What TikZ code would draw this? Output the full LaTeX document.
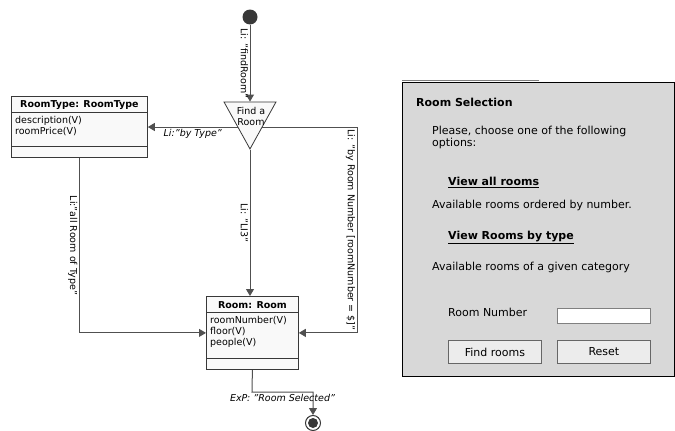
\documentclass[tikz,border=0pt]{standalone}
\usepackage{fontspec}
\setmainfont{DejaVu Sans}
\usepackage{tikz}
\usetikzlibrary{shapes.geometric, arrows.meta, positioning, calc, backgrounds}
\definecolor{FlowLine}{HTML}{505050}
\definecolor{BoxBorder}{HTML}{383838}
\definecolor{BoxFill}{HTML}{F9F9F9}
\definecolor{PanelGray}{HTML}{D8D8D8}
\definecolor{ButtonGray}{HTML}{ECECEC}
\tikzset{
    % UML class boxes
    class box/.style={
        rectangle,
        draw=BoxBorder,
        fill=BoxFill,
        line width=0.8pt,
        inner sep=0pt
    },
    class title/.style={
        font=\fontsize{9.5}{11}\selectfont\bfseries,
        inner sep=0pt,
        anchor=center
    },
    class attr/.style={
        font=\fontsize{9.5}{11}\selectfont,
        align=left,
        inner sep=0pt,
        anchor=north west
    },
    % navigation nodes
    start state/.style={
        circle,
        fill=BoxBorder,
        minimum size=15pt,
        inner sep=0pt
    },
    end state/.style={
        circle,
        draw=BoxBorder,
        line width=1pt,
        fill=white,
        minimum size=15pt,
        inner sep=0pt,
        path picture={\fill[BoxBorder] (path picture bounding box.center) circle (5pt);}
    },
    index node/.style={
        isosceles triangle,
        isosceles triangle stretches,
        shape border rotate=-90,
        draw=BoxBorder,
        fill=BoxFill,
        line width=0.8pt,
        minimum width=52pt,
        minimum height=47pt,
        inner sep=0pt
    },
    arrow style/.style={
        -{Triangle[length=7pt,width=8pt]},
        line width=1pt,
        FlowLine
    },
    link label/.style={
        font=\fontsize{9.5}{11}\selectfont,
        text=black,
        inner sep=1.5pt
    },
    % web page mock-up
    panel/.style={
        rectangle,
        draw=black,
        fill=PanelGray,
        line width=0.6pt,
        inner sep=0pt
    },
    panel text/.style={
        font=\fontsize{11}{12}\selectfont,
        align=left,
        inner sep=0pt,
        anchor=base west
    },
    field box/.style={
        rectangle,
        draw=gray,
        fill=white,
        line width=0.8pt,
        inner sep=0pt
    },
    button/.style={
        rectangle,
        draw=gray!80!black,
        fill=ButtonGray,
        line width=0.8pt,
        font=\fontsize{11}{12}\selectfont,
        inner sep=0pt
    }
}

\begin{document}
\begin{tikzpicture}[x=1pt, y=-1pt]
        \useasboundingbox (0,0) rectangle (675,431);

        % Start and the index
        \node[start state] (start) at (250,17) {};
        \node[index node, anchor=apex] (find) at (250,150) {};
        \node[link label, align=center, inner sep=0pt] (findtext) at (251,116.5) {Find a\\Room};
        \coordinate (split) at (250,127);
        \coordinate (bynum) at (357,127);

        % RoomType class
        \node[class box, minimum width=136pt, minimum height=61pt, anchor=north west] (roomtype) at (11,96) {};
        \node[class title] (roomtypetitle) at ($(roomtype.north)+(0,9)$) {RoomType: RoomType};
        \draw[BoxBorder, line width=0.8pt] ($(roomtype.north west)+(0,16)$) -- ($(roomtype.north east)+(0,16)$);
        \draw[BoxBorder, line width=0.8pt] ($(roomtype.south west)+(0,-11)$) -- ($(roomtype.south east)+(0,-11)$);
        \node[class attr] (roomtypeattr) at ($(roomtype.north west)+(4,20)$) {description(V)\\roomPrice(V)};

        % Room class
        \node[class box, minimum width=92pt, minimum height=73pt, anchor=north west] (room) at (206,296) {};
        \node[class title] (roomtitle) at ($(room.north)+(0,9)$) {Room: Room};
        \draw[BoxBorder, line width=0.8pt] ($(room.north west)+(0,16)$) -- ($(room.north east)+(0,16)$);
        \draw[BoxBorder, line width=0.8pt] ($(room.south west)+(0,-11)$) -- ($(room.south east)+(0,-11)$);
        \node[class attr] (roomattr) at ($(room.north west)+(4,20)$) {roomNumber(V)\\floor(V)\\people(V)};

        % Exit
        \node[end state] (final) at (313,423) {};
        \coordinate (exitturn) at (252,392);

        % Links
        \begin{scope}[on background layer]
            \draw[arrow style] (start) -- node[link label, rotate=-90, anchor=north] {Li: "findRoom"} (find.lower side);
            \draw[arrow style] (split) -- node[link label, pos=0.56, anchor=north, font=\fontsize{9.5}{11}\selectfont\itshape] {Li:"by Type"} (split -| roomtype.east);
            \draw[arrow style] (find.apex) -- node[link label, rotate=-90, anchor=north] {Li: "LI3"} (find.apex |- room.north);
            \draw[arrow style] (split) -- (bynum) |- node[link label, pos=0.25, rotate=-90, anchor=north] {Li: "by Room Number [roomNumber = \$]"} (room.east);
            \draw[arrow style] (roomtype.south) |- node[link label, pos=0.25, rotate=-90, anchor=north] {Li:"all Room of Type"} (room.west);
            \draw[arrow style] (room.south) -- (exitturn) -| node[link label, pos=0.25, anchor=north, font=\fontsize{9.5}{11}\selectfont\itshape] {ExP: "Room Selected"} (final.north);
        \end{scope}

        % Room Selection page
        \draw[gray, line width=0.6pt] (402,80) -- (539,80);
        \node[panel, minimum width=272pt, minimum height=294pt, anchor=north west] (page) at (402,82) {};
        \node[panel text, font=\fontsize{11}{12}\selectfont\bfseries] (pagetitle) at (416,106.5) {Room Selection};
        \node[panel text] (intro) at (432,146.5) {Please, choose one of the following\\options:};
        \node[panel text, font=\fontsize{11}{12}\selectfont\bfseries] (viewall) at (448,185.5) {\underline{View all rooms}};
        \node[panel text] (viewalltext) at (432,208.5) {Available rooms ordered by number.};
        \node[panel text, font=\fontsize{11}{12}\selectfont\bfseries] (viewtype) at (448,239.5) {\underline{View Rooms by type}};
        \node[panel text] (viewtypetext) at (432,270.5) {Available rooms of a given category};
        \node[panel text] (numlabel) at (448,316.5) {Room Number};
        \node[field box, minimum width=93pt, minimum height=15pt, anchor=north west] (numfield) at (557,308) {};
        \node[button, minimum width=93pt, minimum height=23pt, anchor=north west] (findbtn) at (448,340) {Find rooms};
        \node[button, minimum width=93pt, minimum height=23pt, anchor=north west] (resetbtn) at (557,340) {Reset};
    \end{tikzpicture}
\end{document}
